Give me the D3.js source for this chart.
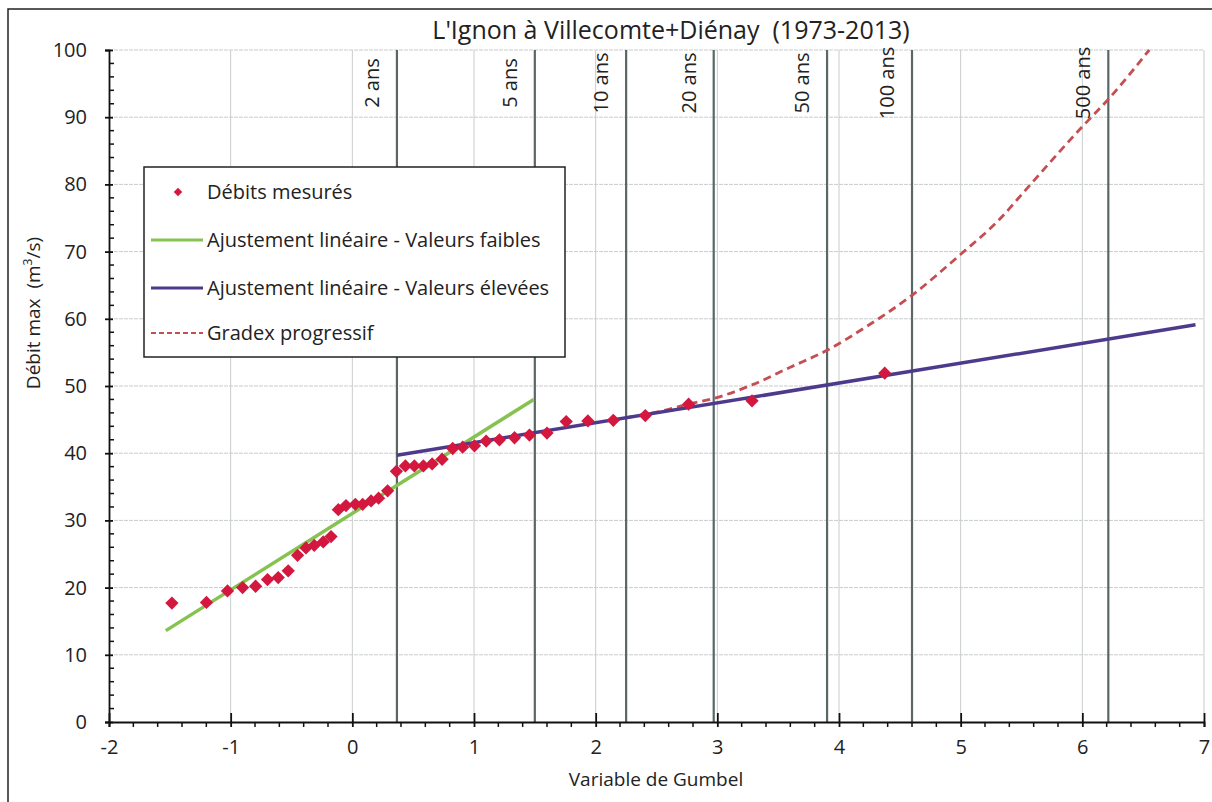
<!DOCTYPE html>
<html>
<head>
<meta charset="utf-8">
<script src="https://cdn.jsdelivr.net/npm/d3@7"></script>
<style>
  html, body { margin: 0; padding: 0; background: #fff; }
  svg { display: block; font-family: "Open Sans", sans-serif; }
  text { white-space: pre; }
</style>
</head>
<body>
<svg id="chart" width="1212" height="802"></svg>
<script>
// Annual maximum discharges, plotted against the Gumbel reduced variable
const gumbelVar = [
  -1.483, -1.199, -1.026, -0.902, -0.795, -0.697, -0.609, -0.527, -0.450, -0.381,
  -0.313, -0.239, -0.175, -0.115, -0.052, 0.025, 0.085, 0.154, 0.216, 0.290,
  0.362, 0.436, 0.510, 0.584, 0.656, 0.738, 0.825, 0.907, 1.004, 1.100,
  1.209, 1.333, 1.456, 1.600, 1.758, 1.936, 2.145, 2.408, 2.764, 3.285, 4.376
];
const debitMesure = [
  17.7, 17.8, 19.5, 20.0, 20.2, 21.2, 21.5, 22.5, 24.8, 25.9,
  26.3, 26.8, 27.6, 31.6, 32.2, 32.4, 32.4, 32.9, 33.3, 34.4,
  37.3, 38.1, 38.1, 38.1, 38.4, 39.1, 40.7, 40.9, 41.1, 41.8,
  42.0, 42.3, 42.7, 43.0, 44.7, 44.8, 44.9, 45.6, 47.3, 47.8, 51.9
];

// Linear fit on the low values
const fitFaiblesX = [-1.533, 1.491];
const fitFaiblesY = [13.6, 48.0];

// Linear fit on the high values
const fitEleveesX = [0.3665, 6.93];
const fitEleveesY = [39.7, 59.1];

// Progressive gradex curve
const gradexX = [2.25, 2.5, 2.76, 2.96, 3.29, 3.6, 3.89, 4.23, 4.6, 5.0, 5.32, 5.54, 6.0, 6.21, 6.55];
const gradexY = [45.3, 46.1, 47.3, 48.1, 50.2, 52.8, 55.2, 58.9, 63.5, 69.6, 74.8, 79.3, 88.6, 92.6, 100];

// Return periods and their Gumbel variable u = -ln(-ln(1 - 1/T))
const periodLabels = ["2 ans", "5 ans", "10 ans", "20 ans", "50 ans", "100 ans", "500 ans"];
const periodYears = [2, 5, 10, 20, 50, 100, 500];

const xTicks = [-2, -1, 0, 1, 2, 3, 4, 5, 6, 7];
const yTicks = [0, 10, 20, 30, 40, 50, 60, 70, 80, 90, 100];

const titleText = "L'Ignon à Villecomte+Diénay  (1973-2013)";
const xTitle = "Variable de Gumbel";
const legendLabels = [
  "Débits mesurés",
  "Ajustement linéaire - Valeurs faibles",
  "Ajustement linéaire - Valeurs élevées",
  "Gradex progressif"
];

const colPoint = "#d4173f";
const colGreen = "#86c250";
const colPurple = "#4e3a8c";
const colGradex = "#c44e52";
const colPeriod = "#5b6767";
const colGrid = "#c9cdcd";
const colText = "#222";
const fontFam = "'Open Sans', sans-serif";

const svg = d3.select("#chart");

// Outer frame
svg.append("rect")
  .attr("x", 8).attr("y", 9).attr("width", 1210).attr("height", 800)
  .attr("fill", "#fff").attr("stroke", "#222").attr("stroke-width", 1.5);

const x = d3.scaleLinear().domain([-2, 7]).range([109, 1204]);
const y = d3.scaleLinear().domain([0, 100]).range([722, 50]);

// Grid
const grid = svg.append("g");
grid.selectAll("line.gx").data(xTicks.slice(1)).join("line")
  .attr("x1", d => x(d)).attr("x2", d => x(d))
  .attr("y1", y(0)).attr("y2", y(100))
  .attr("stroke", colGrid).attr("stroke-width", 1);
grid.selectAll("line.gy").data(yTicks.slice(1)).join("line")
  .attr("x1", x(-2)).attr("x2", x(7))
  .attr("y1", d => y(d)).attr("y2", d => y(d))
  .attr("stroke", colGrid).attr("stroke-width", 1)
  .attr("stroke-dasharray", "4,1");

// Return-period verticals
const gumbelU = T => -Math.log(-Math.log(1 - 1 / T));
const periods = periodYears.map((T, i) => ({ u: gumbelU(T), label: periodLabels[i] }));
const pg = svg.append("g");
pg.selectAll("line").data(periods).join("line")
  .attr("x1", d => x(d.u)).attr("x2", d => x(d.u))
  .attr("y1", y(0)).attr("y2", y(100))
  .attr("stroke", colPeriod).attr("stroke-width", 2.2);
pg.selectAll("text").data(periods).join("text")
  .attr("transform", d => `translate(${x(d.u) - 18},83) rotate(-90)`)
  .attr("text-anchor", "middle")
  .attr("font-size", 20).attr("fill", colText)
  .text(d => d.label);

// Axes
const fmt = d => String(d);
const yAxis = d3.axisLeft(y).tickValues(yTicks).tickSize(4).tickPadding(18).tickFormat(fmt);
const gy = svg.append("g").attr("transform", `translate(${x(-2)},0)`).call(yAxis);
gy.select(".domain").attr("stroke", "#111").attr("stroke-width", 1.8);
gy.selectAll(".tick line").attr("stroke", "#111").attr("stroke-width", 1.8).attr("x2", 4).attr("x1", -4);
gy.selectAll(".tick text").attr("font-size", 20).attr("fill", colText).attr("font-family", fontFam);
// y minor ticks
svg.append("g").selectAll("line").data(d3.range(0, 100, 2).filter(v => v % 10 !== 0)).join("line")
  .attr("x1", x(-2)).attr("x2", x(-2) + 5)
  .attr("y1", d => y(d)).attr("y2", d => y(d))
  .attr("stroke", "#111").attr("stroke-width", 1.5);

const xAxis = d3.axisBottom(x).tickValues(xTicks).tickSize(5).tickPadding(13).tickFormat(fmt);
const gx = svg.append("g").attr("transform", `translate(0,${y(0)})`).call(xAxis);
gx.select(".domain").attr("stroke", "#111").attr("stroke-width", 1.8);
gx.selectAll(".tick line").attr("stroke", "#111").attr("stroke-width", 1.8).attr("y1", -9).attr("y2", 5);
gx.selectAll(".tick text").attr("font-size", 20).attr("fill", colText).attr("font-family", fontFam);
// x minor ticks
svg.append("g").selectAll("line").data(d3.range(-2, 7, 0.2).filter(v => Math.abs(v - Math.round(v)) > 1e-6)).join("line")
  .attr("x1", d => x(d)).attr("x2", d => x(d))
  .attr("y1", y(0)).attr("y2", y(0) + 5)
  .attr("stroke", "#111").attr("stroke-width", 1.5);

// Axis titles and chart title
svg.append("text").attr("x", 656).attr("y", 786).attr("text-anchor", "middle")
  .attr("font-size", 19).attr("fill", colText).text(xTitle);
const yt = svg.append("text").attr("transform", "translate(40,313) rotate(-90)")
  .attr("text-anchor", "middle").attr("font-size", 19).attr("fill", colText);
yt.append("tspan").text("Débit max  (m");
yt.append("tspan").attr("font-size", 12).attr("dy", -8).text("3");
yt.append("tspan").attr("dy", 8).text("/s)");
svg.append("text").attr("x", 671).attr("y", 39).attr("text-anchor", "middle")
  .attr("font-size", 25).attr("fill", colText).text(titleText);

// Series
const straight = d3.line().x(d => x(d[0])).y(d => y(d[1]));
const smooth = d3.line().x(d => x(d[0])).y(d => y(d[1])).curve(d3.curveMonotoneX);
svg.append("path").datum(d3.zip(fitFaiblesX, fitFaiblesY))
  .attr("d", straight).attr("fill", "none").attr("stroke", colGreen).attr("stroke-width", 3.5);
svg.append("path").datum(d3.zip(gradexX, gradexY))
  .attr("d", smooth).attr("fill", "none")
  .attr("stroke", colGradex).attr("stroke-width", 2.8).attr("stroke-dasharray", "8,5");
svg.append("path").datum(d3.zip(fitEleveesX, fitEleveesY))
  .attr("d", straight).attr("fill", "none")
  .attr("stroke", colPurple).attr("stroke-width", 3.5);

const diamond = d3.symbol(d3.symbolSquare, 88);
svg.append("g").selectAll("path").data(d3.zip(gumbelVar, debitMesure)).join("path")
  .attr("d", diamond)
  .attr("transform", d => `translate(${x(d[0])},${y(d[1])}) rotate(45)`)
  .attr("fill", colPoint);

// Legend
const lg = svg.append("g");
lg.append("rect").attr("x", 144).attr("y", 167).attr("width", 421).attr("height", 190)
  .attr("fill", "#fff").attr("stroke", "#222").attr("stroke-width", 1.5);
const rows = [192, 240, 288, 333];
lg.append("path").attr("d", d3.symbol(d3.symbolSquare, 36))
  .attr("transform", `translate(178,${rows[0]}) rotate(45)`).attr("fill", colPoint);
lg.append("line").attr("x1", 151).attr("x2", 203).attr("y1", rows[1]).attr("y2", rows[1])
  .attr("stroke", colGreen).attr("stroke-width", 3);
lg.append("line").attr("x1", 151).attr("x2", 203).attr("y1", rows[2]).attr("y2", rows[2])
  .attr("stroke", colPurple).attr("stroke-width", 3);
lg.append("line").attr("x1", 151).attr("x2", 203).attr("y1", rows[3]).attr("y2", rows[3])
  .attr("stroke", colGradex).attr("stroke-width", 2).attr("stroke-dasharray", "5,3");
lg.selectAll("text").data(legendLabels).join("text")
  .attr("x", 207).attr("y", (d, i) => rows[i]).attr("dy", "0.35em")
  .attr("font-size", 20).attr("fill", colText).text(d => d);
</script>
</body>
</html>
